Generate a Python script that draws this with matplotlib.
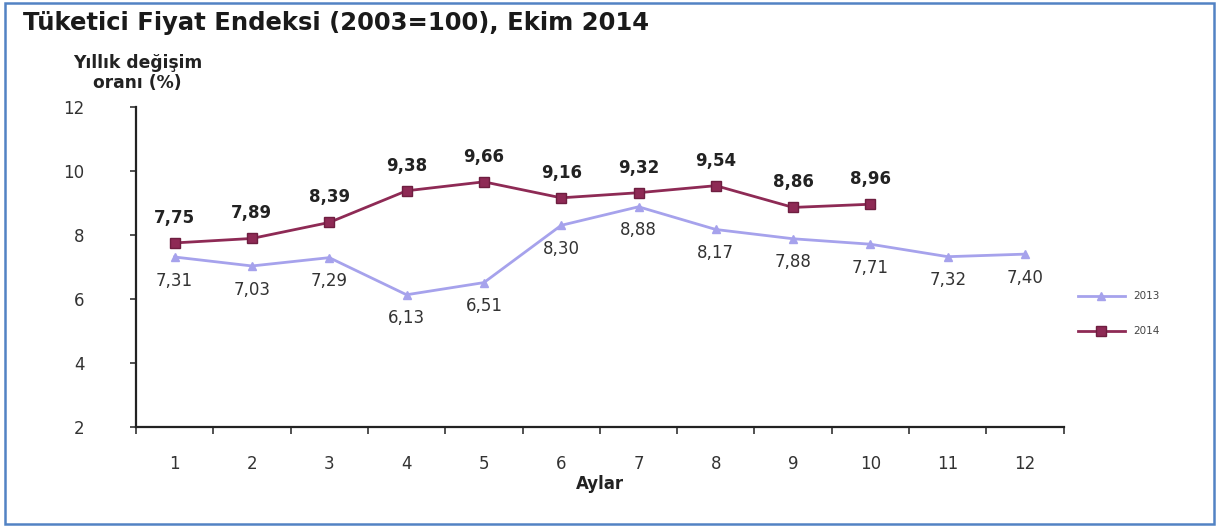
import matplotlib
matplotlib.use("Agg")
import matplotlib.pyplot as plt
from matplotlib.patches import Rectangle

plt.rcParams['font.family'] = ['DejaVu Sans']

months = [1, 2, 3, 4, 5, 6, 7, 8, 9, 10, 11, 12]
values_2013 = [7.31, 7.03, 7.29, 6.13, 6.51, 8.30, 8.88, 8.17, 7.88, 7.71, 7.32, 7.40]
values_2014 = [7.75, 7.89, 8.39, 9.38, 9.66, 9.16, 9.32, 9.54, 8.86, 8.96]
y_ticks = [2, 4, 6, 8, 10, 12]

title = "Tüketici Fiyat Endeksi (2003=100), Ekim 2014"
ylabel = "Yıllık değişim\noranı (%)"
xlabel = "Aylar"

c2013 = "#A6A2EC"
c2014 = "#8E2A55"
text_c = "#333333"

fig = plt.figure(figsize=(12.16, 5.27), dpi=100)
ax = fig.add_axes([0.1118, 0.19, 0.7630, 0.607])

ax.plot(months, values_2013, color=c2013, lw=2, marker="^", ms=6,
        mfc=c2013, mec=c2013, label="2013")
ax.plot(months[:len(values_2014)], values_2014, color=c2014, lw=2, marker="s", ms=7,
        mfc=c2014, mec="#6E1E40", label="2014")

for m, v in zip(months, values_2013):
    ax.annotate(f"{v:.2f}".replace(".", ","), (m, v), xytext=(0, -17),
                textcoords="offset points", ha="center", va="center",
                fontsize=12, color=text_c)
for m, v in zip(months, values_2014):
    ax.annotate(f"{v:.2f}".replace(".", ","), (m, v), xytext=(0, 18),
                textcoords="offset points", ha="center", va="center",
                fontsize=12, color="#222222", fontweight="bold")

ax.set_xlim(0.5, 12.5)
ax.set_ylim(2, 12)
ax.set_yticks(y_ticks)
ax.set_xticks(months)
ax.set_xticks([m + 0.5 for m in [0] + months], minor=True)
ax.tick_params(axis="x", which="major", length=0, pad=20, labelsize=12, labelcolor=text_c)
ax.tick_params(axis="x", which="minor", length=5, width=1.2, direction="out", color="#333333")
ax.tick_params(axis="y", length=4, width=1.2, pad=33, labelsize=12,
               color="#333333", labelcolor=text_c)

for s in ["top", "right"]:
    ax.spines[s].set_visible(False)
for s in ["left", "bottom"]:
    ax.spines[s].set_linewidth(1.6)
    ax.spines[s].set_color("#222222")

ax.set_xlabel(xlabel, fontsize=12, fontweight="bold", color="#222222", labelpad=2)

fig.text(0.019, 0.957, title, fontsize=17.5, fontweight="bold", color="#1a1a1a",
         ha="left", va="center")
fig.text(0.113, 0.862, ylabel, fontsize=12.3, fontweight="bold", color="#222222",
         ha="center", va="center", linespacing=1.15)

leg = ax.legend(loc="center left", bbox_to_anchor=(1.005, 0.353), frameon=False,
                fontsize=7.5, handlelength=4.5, labelspacing=2.4, labelcolor="#444444")

fig.patches.append(Rectangle((5 / 1216, 3 / 527), 1209 / 1216, 521 / 527,
                             transform=fig.transFigure, fill=False,
                             edgecolor="#5283C4", lw=1.8))

fig.savefig("out.png", dpi=100)
